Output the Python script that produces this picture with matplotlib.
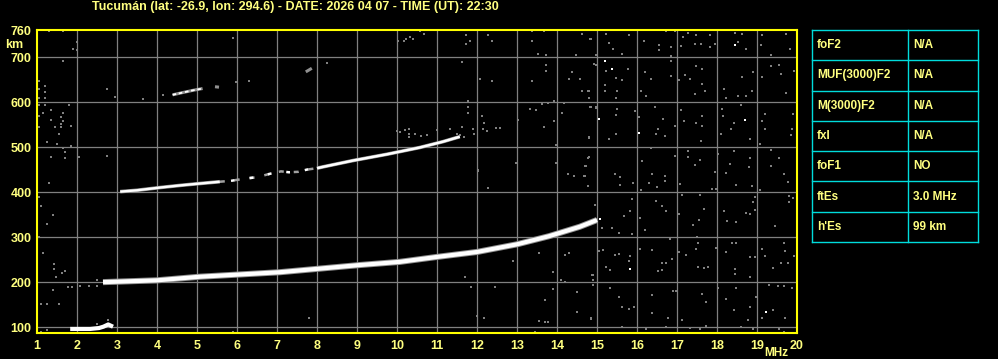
import matplotlib
matplotlib.use("Agg")
import matplotlib.pyplot as plt
import numpy as np

# ionogram traces (MHz, km)
lower_f = [2.65, 3.0, 4.0, 5.07, 6.07, 7.07, 8.07, 9.07, 10.07, 11.0, 12.0, 13.0, 13.8, 14.57, 15.0]
lower_h = [200, 201, 204, 212, 217, 222, 230, 238, 245, 256, 267, 284, 302, 323, 338]

upper_f = [3.08, 3.5, 4.07, 4.6, 5.07, 5.57]
upper_h = [401, 404, 410, 415, 419, 423]
upper2_f = [8.0, 8.15, 8.9, 9.75, 10.57, 11.15, 11.57]
upper2_h = [453, 456, 470, 484, 499, 512, 523]
upper_gap_f = [5.57, 5.85, 6.2, 6.5, 6.84, 7.1, 7.3, 7.53, 7.75, 8.0]
upper_gap_h = [423, 425, 430, 433, 441, 446, 444, 445, 450, 453]

es_f = [1.83, 2.1, 2.33, 2.55, 2.66, 2.78, 2.9]
es_h = [96, 96, 96, 98, 101, 106, 101]

f3_f = [4.39, 4.64, 4.9, 5.14]
f3_h = [616, 621, 626, 630]
f3b_f = [5.45, 5.55]
f3b_h = [634, 633]
f4_f = [7.72, 7.87]
f4_h = [667, 675]

noise = [
    (14.63, 752), (15.23, 752), (15.8, 750), (15.3, 732), (14.84, 740), (15.4, 717), (15.63, 707),
    (16.17, 735), (16.54, 726), (16.54, 715), (16.73, 757), (16.94, 757), (17.15, 745), (17.28, 753),
    (17.48, 748), (17.44, 728), (17.59, 728), (17.83, 748), (17.83, 722), (17.94, 728), (17.09, 725),
    (16.84, 722), (16.84, 702), (18.44, 754), (18.63, 752), (18.72, 717), (18.53, 734), (19.13, 750),
    (19.09, 726), (19.73, 752), (19.83, 717), (19.34, 704),
    (14.97, 683), (15.22, 670), (15.47, 653), (15.63, 650), (15.78, 674), (15.19, 637),
    (15.19, 625), (15.5, 625), (15.48, 610), (14.63, 625), (14.78, 625), (16.19, 666), (16.11, 625),
    (16.22, 614), (16.34, 651), (16.84, 657), (16.84, 692), (17.05, 650), (17.19, 660), (17.33, 651),
    (17.48, 681), (17.63, 674), (17.63, 640), (17.44, 618), (17.69, 625), (18.18, 629), (18.23, 610),
    (18.53, 614), (18.63, 655), (18.73, 614), (18.88, 625), (18.9, 666), (19.13, 655), (19.34, 681),
    (19.61, 663), (19.73, 620), (19.93, 668), (19.55, 683),
    (14.98, 586), (14.84, 590), (15.5, 584), (15.48, 571), (15.94, 580), (16.05, 566), (16.44, 590),
    (16.65, 563), (16.53, 541), (16.47, 528), (16.69, 525), (16.94, 546), (17.11, 583), (17.17, 558),
    (17.48, 553), (17.63, 568), (17.63, 547), (17.61, 513), (18.13, 584), (18.15, 568), (18.11, 528),
    (18.34, 540), (18.43, 553), (18.59, 593), (18.82, 519), (19.19, 573), (19.13, 558),
    (19.19, 540), (19.84, 526), (19.88, 540), (19.9, 573), (15.48, 528), (15.3, 517), (14.8, 521),
    (16.36, 498), (19.07, 506),
    (14.78, 476), (14.73, 459), (14.69, 435), (15.44, 441), (15.58, 433), (16.13, 469), (16.38, 441),
    (16.69, 435), (16.94, 480), (17.28, 478), (17.28, 491), (17.57, 471), (17.44, 461), (17.94, 444),
    (18.03, 484), (18.33, 463), (18.43, 491), (18.23, 443), (18.83, 476), (18.81, 456), (19.34, 493),
    (19.55, 476), (19.36, 457), (19.68, 441),
    (14.77, 414), (15.58, 416), (15.9, 420), (16.3, 420), (16.5, 411), (16.11, 405), (16.69, 424),
    (17.07, 419), (17.88, 407), (17.98, 407), (18.48, 416), (18.88, 414), (19.07, 405), (19.78, 422),
    (19.8, 379), (19.9, 387), (14.94, 372), (15.88, 384), (15.67, 346), (15.82, 359), (16.08, 342),
    (16.48, 381), (16.63, 368), (16.73, 359), (17.05, 352), (17.13, 394), (17.4, 327), (17.55, 338),
    (17.58, 394), (17.68, 362), (18.17, 359), (18.26, 335), (18.47, 333), (18.72, 353), (18.83, 352),
    (18.94, 361), (18.9, 377), (18.94, 390), (19.44, 325), (19.81, 392),
    (15.13, 320), (15.38, 320), (15.55, 309), (15.88, 307), (16.19, 315), (16.83, 295), (17.49, 301),
    (17.53, 288), (15.05, 270), (15.15, 272), (15.44, 260), (15.55, 262), (15.8, 248),
    (15.83, 257), (16.08, 273), (16.38, 272), (16.63, 243), (16.73, 243), (16.88, 251), (17.05, 268),
    (17.23, 260), (17.48, 273), (17.53, 234), (17.68, 231), (17.77, 233), (17.98, 275), (18.23, 266),
    (18.38, 288), (18.48, 288), (18.44, 229), (18.44, 218), (18.83, 255), (18.94, 255), (19.13, 273),
    (19.19, 257), (19.4, 231), (19.67, 288), (19.69, 270), (19.78, 243), (19.92, 258), (19.6, 243),
    (18.83, 212), (16.63, 226), (16.53, 225), (15.23, 233), (15.33, 227), (14.9, 216),
    (14.9, 194), (15.33, 188), (15.55, 168), (15.63, 144), (15.8, 140), (15.92, 145), (16.38, 171),
    (16.38, 132), (16.77, 121), (16.9, 181), (16.98, 181), (17.13, 116), (17.63, 173), (17.73, 156),
    (17.73, 102), (18.02, 186), (18.23, 162), (18.42, 138), (18.47, 186), (18.83, 145), (18.77, 116),
    (18.98, 166), (19.3, 194), (19.4, 138), (19.53, 192), (19.67, 192), (19.88, 186),
    (19.69, 121), (19.13, 121), (14.86, 121), (15.63, 101), (16.23, 95), (16.72, 101), (17.33, 99),
    (17.58, 95), (18.6, 101), (18.9, 95), (19.55, 95), (19.67, 90),
    (10.03, 735), (10.23, 739), (10.32, 745), (10.57, 757), (10.67, 752), (11.73, 749), (11.83, 735),
    (11.73, 730), (11.63, 690), (12.28, 749), (12.38, 735), (12.08, 651), (12.38, 647), (13.38, 757),
    (13.38, 735), (13.68, 757), (13.52, 707), (13.73, 704), (13.73, 683), (13.73, 670), (13.38, 647),
    (14.38, 666), (14.3, 651), (14.58, 651), (14.63, 625), (14.8, 625), (14.8, 610), (14.48, 704),
    (14.63, 752), (14.83, 739), (14.93, 685), (14.98, 704),
    (11.77, 603), (11.77, 588), (11.77, 575), (12.13, 570), (12.18, 554), (12.15, 540), (12.25, 535),
    (12.48, 543), (12.58, 543), (13.03, 561), (13.33, 584), (13.48, 582), (13.63, 595), (13.77, 597),
    (13.93, 603), (14.18, 597), (14.12, 575), (13.93, 558), (13.68, 545), (14.83, 590), (14.98, 588),
    (14.8, 522), (13.97, 505), (12.98, 465), (12.02, 448), (13.97, 465), (14.27, 441), (14.43, 435),
    (14.7, 459), (14.8, 478), (14.68, 435), (11.33, 541), (11.58, 526), (11.68, 523), (11.93, 530),
    (10.01, 535), (10.3, 541), (10.3, 523), (10.44, 530), (10.75, 526),
    (1.29, 758), (1.64, 758), (1.99, 734), (1.89, 717), (1.99, 715), (1.64, 692), (1.04, 647),
    (1.04, 629), (1.19, 636), (1.19, 623), (1.19, 610), (1.04, 610), (1.04, 593), (1.19, 593),
    (1.35, 583), (1.79, 593), (1.14, 575), (1.64, 575), (1.04, 570), (1.35, 561), (1.6, 567),
    (1.64, 557), (1.6, 552), (1.46, 544), (1.6, 544), (1.85, 547), (1.04, 544), (1.54, 530),
    (1.25, 512), (1.49, 507), (1.85, 503), (1.64, 498), (1.7, 488), (1.35, 478), (1.7, 476),
    (2.04, 478), (2.74, 629), (2.95, 612), (3.64, 607), (4.14, 616), (5.89, 743), (6.29, 647),
    (5.98, 644), (8.24, 687), (10.18, 735), (10.39, 739),
    (1.05, 390), (1.1, 370), (1.3, 420), (1.25, 330), (1.05, 300), (1.4, 350), (1.15, 265),
    (1.43, 241), (1.43, 230), (1.48, 212), (1.63, 221), (1.7, 224), (1.39, 182), (1.09, 151),
    (1.24, 151), (1.55, 152), (1.78, 190), (1.88, 190), (2.08, 191), (2.31, 191), (2.49, 191),
    (2.49, 204), (2.78, 116), (2.49, 108), (1.0, 116), (1.09, 90), (1.24, 93), (5.89, 90),
    (7.81, 121), (11.71, 212), (11.85, 190), (12.45, 190), (12.0, 125), (12.18, 121),
    (2.74, 481), (10.07, 534), (10.2, 537), (10.3, 528), (10.6, 525), (11.0, 537), (11.5, 528),
    (11.63, 545), (11.9, 540), (12.03, 447), (12.28, 408),
    (13.55, 265), (13.9, 223), (13.9, 184), (13.7, 160), (14.49, 178), (14.49, 134), (14.84, 119),
    (14.87, 215), (14.9, 205), (14.2, 201), (14.1, 205), (13.45, 90), (12.9, 247), (13.55, 114),
    (13.7, 111), (13.78, 112), (14.3, 264), (14.2, 260),
]
bright = [(15.19, 692), (15.38, 674), (15.04, 562), (16.04, 532), (18.44, 726), (18.69, 560),
          (15.08, 341), (15.83, 229), (19.23, 133)]

params = ["foF2", "MUF(3000)F2", "M(3000)F2", "fxI", "foF1", "ftEs", "h'Es"]
values = ["N/A", "N/A", "N/A", "N/A", "NO", "3.0 MHz", "99 km"]

title = "Tucumán (lat: -26.9, lon: 294.6) - DATE: 2026 04 07 - TIME (UT): 22:30"

YEL = "#ffff80"
FRAME = "#ffff00"
CYAN = "#00dcdc"
GRID = "#808080"
FONT = ["Liberation Sans", "DejaVu Sans"]

W, H = 998, 359
fig = plt.figure(figsize=(W / 100, H / 100), dpi=100, facecolor="black")

ax = fig.add_axes([37 / W, 26 / H, 760 / W, 303 / H])
ax.set_facecolor("black")
ax.set_xlim(1, 20)
ax.set_ylim(87, 760)
for f in range(2, 20):
    ax.axvline(f, color=GRID, lw=0.9, zorder=1)
for h in range(100, 800, 100):
    ax.axhline(h, color=GRID, lw=0.9, zorder=1)

nf, nh = zip(*noise)
ax.scatter(nf, nh, marker="s", s=4, color="#808080", linewidths=0, zorder=2)
bf, bh = zip(*bright)
ax.scatter(bf, bh, marker="s", s=4, color="white", linewidths=0, zorder=3)

# echo traces
ax.plot(lower_f, lower_h, color="#909090", lw=4.4, solid_capstyle="butt", zorder=3)
ax.plot(lower_f, lower_h, color="white", lw=3.0, solid_capstyle="butt", zorder=4)
ax.plot(upper_f, upper_h, color="#909090", lw=2.6, solid_capstyle="butt", zorder=3)
ax.plot(upper_f, upper_h, color="white", lw=1.7, solid_capstyle="butt", zorder=4)
ax.plot(upper2_f, upper2_h, color="#909090", lw=2.6, solid_capstyle="butt", zorder=3)
ax.plot(upper2_f, upper2_h, color="white", lw=1.8, solid_capstyle="butt", zorder=4)
ax.plot(upper_gap_f, upper_gap_h, color="#a0a0a0", lw=1.8, linestyle=(0, (2, 4)), zorder=3)
ax.plot(upper_gap_f, upper_gap_h, color="white", lw=1.8, linestyle=(3, (1.5, 6)), zorder=4)
ax.plot(es_f, es_h, color="white", lw=3.0, solid_capstyle="butt", zorder=4)
ax.plot(f3_f, f3_h, color="#909090", lw=2.2, solid_capstyle="butt", zorder=3)
ax.plot(f3_f, f3_h, color="white", lw=1.3, solid_capstyle="butt", linestyle=(0, (2, 1.5)), zorder=4)
ax.plot(f3b_f, f3b_h, color="#909090", lw=2.2, solid_capstyle="butt", zorder=3)
ax.plot(f4_f, f4_h, color="#909090", lw=2.2, solid_capstyle="butt", zorder=3)

for s in ax.spines.values():
    s.set_color(FRAME)
    s.set_linewidth(1.5)
    s.set_zorder(6)

ax.set_xticks(range(1, 21))
ax.set_xticklabels([str(f) for f in range(1, 21)])
ax.set_yticks([100, 200, 300, 400, 500, 600, 700, 760])
ax.set_yticklabels(["100", "200", "300", "400", "500", "600", "700", "760"])
ax.tick_params(length=0, colors=YEL, labelsize=9)
ax.tick_params(axis="x", pad=5)
ax.tick_params(axis="y", pad=4)
for lbl in ax.get_xticklabels() + ax.get_yticklabels():
    lbl.set_fontfamily(FONT)
    lbl.set_fontweight("bold")

fig.text(14 / W, 1 - 45 / H, "km", color=YEL, fontsize=9, fontweight="bold",
         family=FONT, ha="center", va="center")
fig.text(776 / W, 1 - 353 / H, "MHz", color=YEL, fontsize=8.5, fontweight="bold",
         family=FONT, ha="center", va="center")
fig.text(295 / W, 1 - 7 / H, title, color=YEL, fontsize=9, fontweight="bold",
         family=FONT, ha="center", va="center")

# parameter table
tab = fig.add_axes([812 / W, (H - 242) / H, 166 / W, 212 / H])
tab.set_xlim(0, 166)
tab.set_ylim(212, 0)
tab.set_facecolor("black")
tab.axis("off")
row_h = 212 / len(params)
for i in range(len(params) + 1):
    tab.plot([0, 166], [i * row_h] * 2, color=CYAN, lw=1.0, clip_on=False)
for x in (0, 96, 166):
    tab.plot([x, x], [0, 212], color=CYAN, lw=1.0, clip_on=False)
for i, (p, v) in enumerate(zip(params, values)):
    yc = (i + 0.5) * row_h
    tab.text(5, yc, p, color=YEL, fontsize=8.5, fontweight="bold", family=FONT, va="center")
    tab.text(101, yc, v, color=YEL, fontsize=8.5, fontweight="bold", family=FONT, va="center")

fig.savefig("out.png", dpi=100, facecolor="black")
